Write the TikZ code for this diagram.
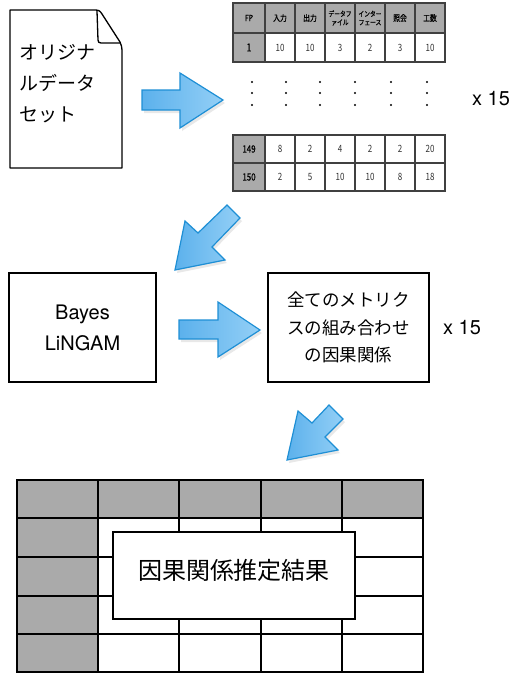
\documentclass[tikz,border=0pt]{standalone}
\usepackage{fontspec}
\setmainfont{TeX Gyre Heros}
\newfontfamily\jp{Noto Sans CJK JP}
\newfontfamily\jpc[FakeStretch=0.8]{Noto Sans CJK JP}
\newfontfamily\jpcb[FakeStretch=0.8,FakeBold=0.6]{Noto Sans CJK JP}
\usetikzlibrary{shadows}
\definecolor{hdr}{HTML}{AAAAAA}
\definecolor{arrowedge}{HTML}{1E8FD5}
\definecolor{arrowdark}{HTML}{5CB1EC}
\definecolor{arrowlight}{HTML}{93CFF6}
\definecolor{celltext}{HTML}{333333}
\tikzset{
  blockarrow/.style={draw=arrowedge, line width=1.2pt, line join=miter,
    left color=arrowdark, right color=arrowlight,
    drop shadow={opacity=0.18, shadow xshift=2pt, shadow yshift=-3pt}},
  stepbox/.style={draw, line width=1.3pt, fill=white, inner sep=0pt},
  tcell/.style={inner sep=0pt, text=celltext, font=\jpc\fontsize{10}{11}\selectfont},
  thead/.style={inner sep=0pt, font=\jpcb\fontsize{8.5}{9}\selectfont, align=center},
  thead2/.style={inner sep=0pt, font=\jpcb\fontsize{7.2}{8.5}\selectfont, align=center},
  dotmark/.style={fill=black, circle, inner sep=0pt, minimum size=2.2pt},
  times/.style={font=\fontsize{20}{24}\selectfont}
}
\begin{document}
\begin{tikzpicture}[x=1pt,y=-1pt]
\useasboundingbox (0,0) rectangle (518,673);

% ---------- original data set (document shape)
\draw[line width=1.3pt, fill=white, line join=round]
  (10,10) -- (95,10) .. controls (99,10) and (100,11) .. (102,14)
  -- (120,42) .. controls (121,44) and (122,47) .. (122,51)
  -- (122,168) -- (10,168) -- cycle;
\draw[line width=1.3pt, line join=round] (97,11) -- (98,40) .. controls (98,42) and (99,43) .. (101,43) -- (120,43);
\node[anchor=west, align=left, inner sep=0pt, font=\jp\fontsize{19}{31}\selectfont] (doc) at (19,84)
  {オリジナ\\ルデータ\\セット};

% ---------- arrow 1 (right)
\draw[blockarrow] (142,90) -- (180,90) -- (180,73) -- (223,100) -- (180,128) -- (180,110) -- (142,110) -- cycle;

% ---------- top table
\fill[hdr] (233,3) rectangle (445,33);
\fill[hdr] (233,33) rectangle (265,62);
\fill[hdr] (233,135) rectangle (265,191);
\fill[white] (265,33) rectangle (445,62);
\fill[white] (265,135) rectangle (445,191);
\begin{scope}[line width=1.2pt, draw={black!75}]
  \draw (233,3) rectangle (445,62);
  \draw (233,33) -- (445,33);
  \draw (233,135) rectangle (445,191);
  \draw (233,163) -- (445,163);
  \foreach \x in {265,295,325,355,385,415} {
    \draw (\x,3) -- (\x,62);
    \draw (\x,135) -- (\x,191);
  }
\end{scope}
\node[thead] (hfp) at (249,18) {FP};
\node[thead] (hin) at (280,18) {入力};
\node[thead] (hout) at (310,18) {出力};
\node[thead2] (hdf) at (340,18) {データフ\\ァイル};
\node[thead2] (hif) at (370,18) {インター\\フェース};
\node[thead] (hq) at (400,18) {照会};
\node[thead] (hw) at (430,18) {工数};
\node[tcell, text=black, font=\jpcb\fontsize{11}{12}\selectfont] (r1) at (249,47.5) {1};
\foreach \v [count=\i] in {10,10,3,2,3,10} {
  \node[tcell] (ra\i) at ({250+30*\i},47.5) {\v};
}
\node[tcell, text=black, font=\jpcb\fontsize{10}{11}\selectfont] (r149) at (249,149) {149};
\foreach \v [count=\i] in {8,2,4,2,2,20} {
  \node[tcell] (rb\i) at ({250+30*\i},149) {\v};
}
\node[tcell, text=black, font=\jpcb\fontsize{10}{11}\selectfont] (r150) at (249,177) {150};
\foreach \v [count=\i] in {2,5,10,10,8,18} {
  \node[tcell] (rc\i) at ({250+30*\i},177) {\v};
}
% vertical ellipsis
\foreach \x [count=\i] in {252,286,320,355,391,427} {
  \foreach \y [count=\j] in {82,93,105} {
    \node[dotmark] (d\i\j) at (\x,\y) {};
  }
}
\node[times, anchor=west, inner sep=0pt] (x1) at (472,99) {x 15};

% ---------- arrow 2 (down-left)
\draw[blockarrow] (175,270) -- (185,221) -- (198,233) -- (227,205) -- (240,218) -- (212,247) -- (225,260) -- cycle;

% ---------- Bayes LiNGAM
\node[stepbox, minimum width=147pt, minimum height=109pt, align=center,
  font=\fontsize{20}{31}\selectfont] (bayes) at (82.5,327.5) {Bayes\\LiNGAM};

% ---------- arrow 3 (right)
\draw[blockarrow] (179,320) -- (218,320) -- (218,302) -- (260,330) -- (218,357) -- (218,339) -- (179,339) -- cycle;

% ---------- combinations box
\node[stepbox, minimum width=161pt, minimum height=109pt, align=center,
  font=\jp\fontsize{17.5}{27.5}\selectfont] (combo) at (348.5,327.5)
  {全てのメトリク\\スの組み合わせ\\の因果関係};
\node[times, anchor=west, inner sep=0pt] (x2) at (443,328) {x 15};

% ---------- arrow 4 (down-left)
\draw[blockarrow] (287,460) -- (298,411) -- (312,423) -- (329,405) -- (343,419) -- (325,437) -- (338,450) -- cycle;

% ---------- result table
\fill[hdr] (17,480) rectangle (423,518);
\fill[hdr] (17,518) rectangle (98,673);
\fill[white] (98,518) rectangle (423,673);
\begin{scope}[line width=1.5pt]
  \draw (17,480) rectangle (423,672);
  \foreach \x in {98,179,261,342} \draw (\x,480) -- (\x,672);
  \foreach \y in {518,557,596,634} \draw (17,\y) -- (423,\y);
\end{scope}
\node[stepbox, minimum width=242pt, minimum height=87pt, text depth=13pt,
  font=\jp\fontsize{24}{28}\selectfont] (result) at (234,575.5) {因果関係推定結果};
\end{tikzpicture}
\end{document}
